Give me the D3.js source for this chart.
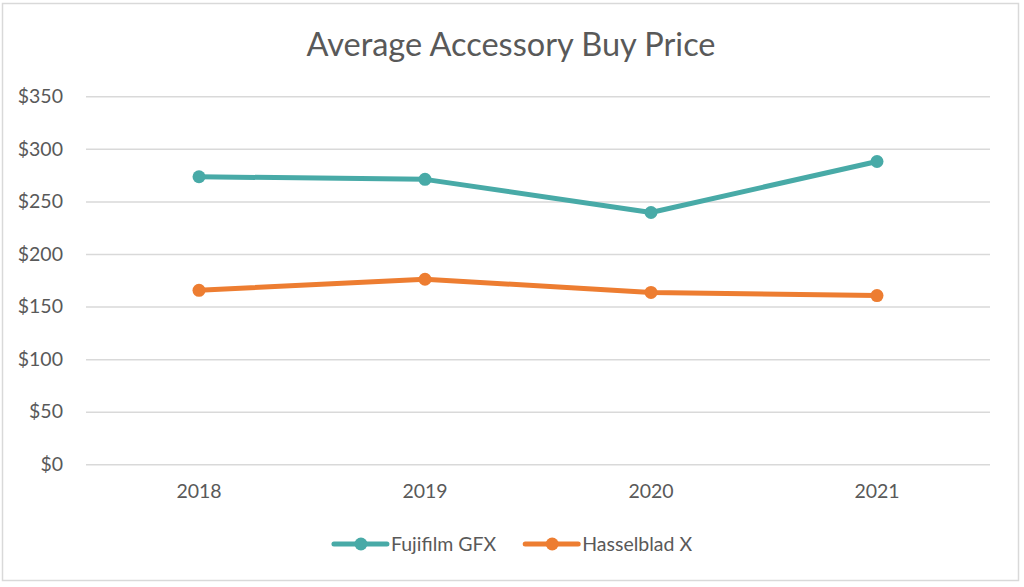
<!DOCTYPE html>
<html>
<head>
<meta charset="utf-8">
<script src="https://cdn.jsdelivr.net/npm/d3@7"></script>
<style>
  body { margin: 0; background: #fff; }
  text { font-family: Lato, "Open Sans", sans-serif; fill: #595959; }
</style>
</head>
<body>
<div id="chart"></div>
<script>
const years = ["2018", "2019", "2020", "2021"];
const fujifilm = [273.5, 271, 239.5, 288];
const hasselblad = [165.5, 176, 163.5, 160.5];
const yTicks = [0, 50, 100, 150, 200, 250, 300, 350];
const seriesNames = ["Fujifilm GFX", "Hasselblad X"];
const colors = ["#48aaa7", "#ed7d31"];

const width = 1024, height = 587;
const margin = { left: 86, right: 34, top: 96.3, bottom: 122.7 };

const svg = d3.select("#chart")
    .append("svg")
    .attr("width", width)
    .attr("height", height);

// chart frame
svg.append("rect")
    .attr("x", 2.5).attr("y", 3.5)
    .attr("width", 1016).attr("height", 577)
    .attr("fill", "#fff")
    .attr("stroke", "#d9d9d9")
    .attr("stroke-width", 1.5);

const x = d3.scaleBand()
    .domain(years)
    .range([margin.left, width - margin.right]);

const y = d3.scaleLinear()
    .domain([0, 350])
    .range([height - margin.bottom, margin.top]);

// title
svg.append("text")
    .attr("x", 511).attr("y", 56)
    .attr("text-anchor", "middle")
    .style("font-size", "32.5px")
    .text("Average Accessory Buy Price");

// Y axis with gridlines
svg.append("g")
    .attr("class", "yAxis")
    .attr("transform", "translate(" + margin.left + ",0)")
    .call(d3.axisLeft(y).tickValues(yTicks).tickSize(0).tickPadding(23).tickFormat(d => "$" + d))
    .call(g => g.select(".domain").remove())
    .call(g => g.selectAll(".tick text")
        .style("font-size", "19.5px")
        .attr("fill", "#595959")
        .style("font-family", "Lato, sans-serif"))
    .call(g => g.selectAll(".tick").append("line")
        .attr("x1", 0).attr("x2", width - margin.right - margin.left)
        .attr("stroke", "#d9d9d9").attr("stroke-width", 1.5));

// X axis labels
svg.append("g")
    .attr("class", "xAxis")
    .attr("transform", "translate(0," + (height - margin.bottom) + ")")
    .call(d3.axisBottom(x).tickSize(0).tickPadding(20))
    .call(g => g.select(".domain").remove())
    .call(g => g.selectAll(".tick text")
        .style("font-size", "19.5px")
        .attr("fill", "#595959")
        .style("font-family", "Lato, sans-serif"));

const cx = d => x(d) + x.bandwidth() / 2;
const line = d3.line().x((d, i) => cx(years[i])).y(d => y(d));

[fujifilm, hasselblad].forEach((vals, k) => {
    svg.append("path")
        .datum(vals)
        .attr("d", line)
        .attr("fill", "none")
        .attr("stroke", colors[k])
        .attr("stroke-width", 5)
        .attr("stroke-linejoin", "round");

    svg.selectAll(".dot" + k)
        .data(vals)
        .join("circle")
        .attr("cx", (d, i) => cx(years[i]))
        .attr("cy", d => y(d))
        .attr("r", 6.5)
        .attr("fill", colors[k]);
});

// legend
const legend = svg.append("g");
let lx = 0;
seriesNames.forEach((name, k) => {
    const g = legend.append("g").attr("transform", "translate(" + lx + ",0)");
    g.append("line")
        .attr("x1", 0).attr("x2", 53)
        .attr("stroke", colors[k]).attr("stroke-width", 5).attr("stroke-linecap", "round");
    g.append("circle").attr("cx", 27).attr("r", 6.5).attr("fill", colors[k]);
    const t = g.append("text")
        .attr("x", 57).attr("dy", "0.35em")
        .style("font-size", "19.5px")
        .text(name);
    lx += 57 + t.node().getComputedTextLength() + 29;
});
const legendWidth = lx - 29;
legend.attr("transform", "translate(" + (513 - legendWidth / 2) + ",544)");
</script>
</body>
</html>
